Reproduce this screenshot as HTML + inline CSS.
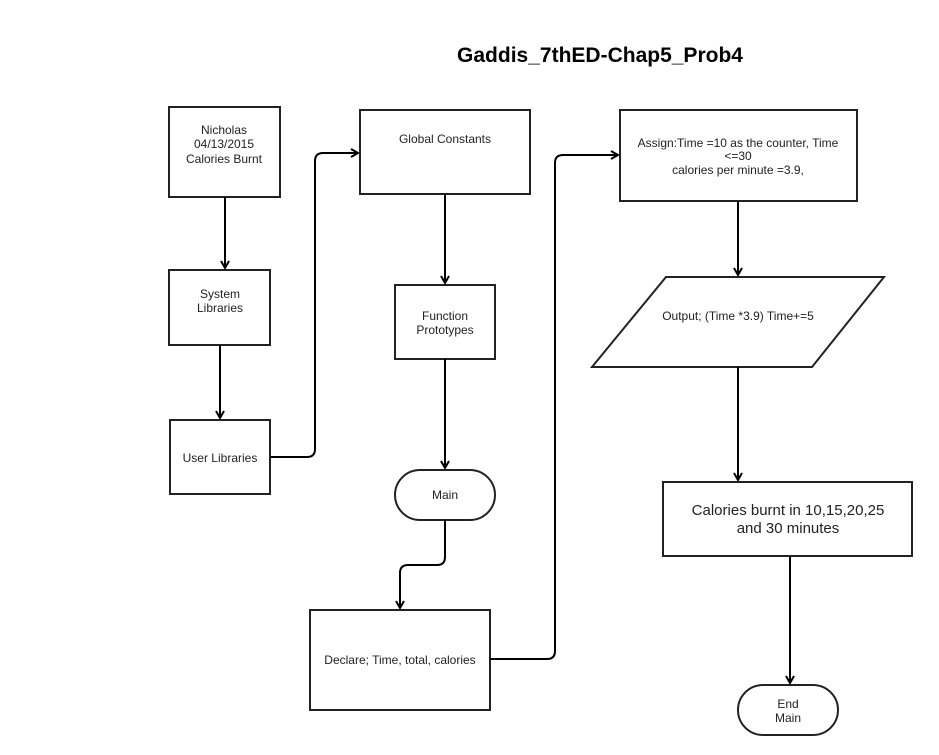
<!DOCTYPE html>
<html><head><style>
body{margin:0;background:#fff;}
svg{display:block;font-family:"Liberation Sans",Arial,sans-serif;}
</style></head><body>
<svg width="939" height="755" viewBox="0 0 939 755">
<defs><marker id="a" markerWidth="10" markerHeight="10" refX="8" refY="5" orient="auto" markerUnits="userSpaceOnUse"><path d="M1,1 L8,5 L1,9" fill="none" stroke="#000" stroke-width="2"/></marker></defs>
<text x="600" y="62" text-anchor="middle" font-size="21" font-weight="bold">Gaddis_7thED-Chap5_Prob4</text>
<g fill="#fff" stroke="#222" stroke-width="2">
<rect x="169" y="107" width="111" height="90"/>
<rect x="169" y="270" width="101" height="75"/>
<rect x="170" y="420" width="100" height="74"/>
<rect x="360" y="110" width="170" height="84"/>
<rect x="395" y="285" width="100" height="74"/>
<rect x="395" y="470" width="100" height="50" rx="25"/>
<rect x="310" y="610" width="180" height="100"/>
<rect x="620" y="110" width="237" height="91"/>
<polygon points="666,277 884,277 812,367 592,367"/>
<rect x="663" y="482" width="249" height="74"/>
<rect x="738" y="685" width="100" height="50" rx="25"/>
</g>
<g fill="none" stroke="#000" stroke-width="2" marker-end="url(#a)">
<path d="M225,197 V268"/>
<path d="M220,345 V418"/>
<path d="M270,457 H307 Q315,457 315,449 V161 Q315,153 323,153 H358"/>
<path d="M445,194 V283"/>
<path d="M445,359 V468"/>
<path d="M445,520 V557 Q445,565 437,565 H408 Q400,565 400,573 V608"/>
<path d="M490,659 H547 Q555,659 555,651 V163 Q555,155 563,155 H618"/>
<path d="M738,201 V275"/>
<path d="M738,367 V480"/>
<path d="M790,556 V683"/>
</g>
<g font-size="12" text-anchor="middle" fill="#222">
<text x="224" y="134">Nicholas</text>
<text x="224" y="148">04/13/2015</text>
<text x="224" y="163">Calories Burnt</text>
<text x="220" y="298">System</text>
<text x="220" y="312">Libraries</text>
<text x="220" y="462">User Libraries</text>
<text x="445" y="143">Global Constants</text>
<text x="445" y="320">Function</text>
<text x="445" y="334">Prototypes</text>
<text x="445" y="499">Main</text>
<text x="400" y="664">Declare; Time, total, calories</text>
<text x="738" y="147">Assign:Time =10 as the counter, Time</text>
<text x="738" y="160">&lt;=30</text>
<text x="738" y="174">calories per minute =3.9,</text>
<text x="738" y="320">Output; (Time *3.9) Time+=5</text>
<text x="788" y="708">End</text>
<text x="788" y="722">Main</text>
</g>
<g font-size="15" text-anchor="middle" fill="#222">
<text x="788" y="515">Calories burnt in 10,15,20,25</text>
<text x="788" y="533">and 30 minutes</text>
</g>
</svg>
</body></html>
